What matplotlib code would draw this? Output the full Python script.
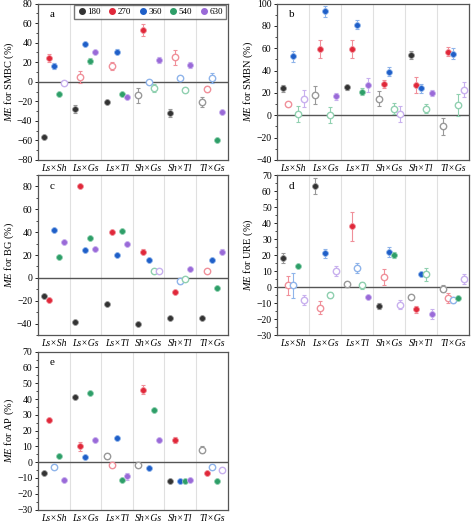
import matplotlib
matplotlib.use("Agg")
import matplotlib.pyplot as plt
from matplotlib.lines import Line2D
from matplotlib.ticker import AutoMinorLocator
import numpy as np

plt.rcParams['font.family'] = ['Liberation Serif', 'DejaVu Serif']
plt.rcParams['mathtext.fontset'] = 'custom'
plt.rcParams['mathtext.it'] = 'Liberation Serif:italic'

groups = ["Ls×Sh", "Ls×Gs", "Ls×Tl", "Sh×Gs", "Sh×Tl", "Tl×Gs"]
series = ["180", "270", "360", "540", "630"]
colors = ["#333333", "#e0283a", "#1f5fc8", "#2e9e68", "#9a6ad8"]
light = ["#999999", "#f0909a", "#8fb4ea", "#90d0b0", "#c8b0ee"]

smbc_v = [[-57, 24, 16, -13, -1], [-28, 5, 39, 21, 31], [-21, 16, 31, -13, -16],
          [-14, 53, 0, -6, 22], [-32, 25, 4, -8, 17], [-21, -7, 4, -60, -31]]
smbc_f = [[1, 1, 1, 1, 0], [1, 0, 1, 1, 1], [1, 0, 1, 1, 1],
          [0, 1, 0, 0, 1], [1, 0, 0, 0, 1], [0, 0, 0, 1, 1]]
smbc_e = [[2, 4, 3, 2, 1], [4, 6, 2, 3, 2], [2, 4, 3, 2, 2],
          [8, 6, 2, 4, 3], [4, 8, 2, 2, 3], [5, 3, 5, 2, 2]]

smbn_v = [[24, 10, 53, 1, 15], [18, 59, 93, 0, 17], [25, 59, 81, 21, 27],
          [15, 28, 39, 6, 1], [54, 27, 24, 6, 20], [-10, 57, 55, 9, 23]]
smbn_f = [[1, 0, 1, 0, 0], [0, 1, 1, 0, 1], [1, 1, 1, 1, 1],
          [0, 1, 1, 0, 0], [1, 1, 1, 0, 1], [0, 1, 1, 0, 0]]
smbn_e = [[3, 2, 5, 7, 8], [8, 8, 5, 7, 3], [2, 8, 4, 3, 6],
          [7, 4, 4, 5, 7], [4, 7, 4, 4, 3], [8, 4, 5, 10, 7]]

bg_v = [[-16, -19, 42, 18, 31], [-39, 80, 24, 35, 25], [-23, 40, 20, 41, 30],
        [-40, 23, 16, 6, 6], [-35, -12, -3, -1, 8], [-35, 6, 16, -9, 23]]
bg_f = [[1, 1, 1, 1, 1], [1, 1, 1, 1, 1], [1, 1, 1, 1, 1],
        [1, 1, 1, 0, 0], [1, 1, 0, 0, 1], [1, 0, 1, 1, 1]]
bg_e = [[2, 1, 1, 1, 1], [1, 1, 1, 1, 1], [1, 1, 1, 1, 1],
        [1, 2, 1, 1, 1], [1, 1, 2, 1, 1], [1, 1, 1, 1, 2]]

ure_v = [[18, 1, 1, 13, -8], [63, -13, 21, -5, 10], [2, 38, 12, 1, -6],
         [-12, 6, 22, 20, -11], [-6, -14, 8, 8, -17], [-1, -7, -8, -7, 5]]
ure_f = [[1, 0, 0, 1, 0], [1, 0, 1, 0, 0], [0, 1, 0, 0, 1],
         [1, 0, 1, 1, 0], [0, 1, 1, 0, 1], [0, 0, 0, 1, 0]]
ure_e = [[3, 6, 8, 1, 3], [5, 4, 3, 2, 3], [1, 9, 3, 2, 1],
         [2, 5, 3, 2, 3], [1, 2, 1, 4, 3], [2, 3, 2, 1, 3]]

ap_v = [[-7, 27, -3, 4, -11], [41, 10, 3, 44, 14], [4, -2, 15, -11, -9],
        [-2, 46, -4, 33, 14], [-12, 14, -12, -12, -11], [8, -7, -3, -12, -5]]
ap_f = [[1, 1, 0, 1, 1], [1, 1, 1, 1, 1], [0, 0, 1, 1, 1],
        [0, 1, 1, 1, 1], [1, 1, 1, 1, 1], [0, 1, 0, 1, 0]]
ap_e = [[1, 1, 1, 1, 1], [1, 3, 1, 1, 1], [2, 1, 1, 1, 2],
        [1, 3, 1, 1, 1], [1, 2, 1, 1, 1], [2, 1, 1, 1, 1]]

panels = [
    ("a", "SMBC", smbc_v, smbc_f, smbc_e, (-80, 80), -80, 20, [0.08, 0.693, 0.40, 0.300]),
    ("b", "SMBN", smbn_v, smbn_f, smbn_e, (-40, 100), -40, 20, [0.585, 0.693, 0.405, 0.300]),
    ("c", "BG", bg_v, bg_f, bg_e, (-50, 90), -40, 20, [0.08, 0.357, 0.40, 0.307]),
    ("d", "URE", ure_v, ure_f, ure_e, (-30, 70), -30, 10, [0.585, 0.357, 0.405, 0.307]),
    ("e", "AP", ap_v, ap_f, ap_e, (-30, 70), -30, 10, [0.08, 0.022, 0.40, 0.303]),
]

fig = plt.figure(figsize=(4.74, 5.21), dpi=100)
offs = np.linspace(-0.32, 0.32, 5)
for letter, name, V, F, E, ylim, t0, step, pos in panels:
    ax = fig.add_axes(pos)
    for g in range(len(groups)):
        for s in range(len(series)):
            x = g + offs[s]
            v = V[g][s]
            ax.errorbar(x, v, yerr=E[g][s], fmt='none', ecolor=light[s], elinewidth=0.8,
                        capsize=1.5, capthick=0.8, zorder=2)
            if F[g][s]:
                ax.plot(x, v, 'o', ms=4.2, mfc=colors[s], mec=light[s], mew=0.6, zorder=3)
            else:
                ax.plot(x, v, 'o', ms=4.6, mfc='white', mec=light[s], mew=1.0, zorder=3)
    for g in range(1, len(groups)):
        ax.axvline(g - 0.5, color='#e0e0e0', lw=0.8, zorder=0)
    ax.axhline(0, color='#555555', lw=1.0, zorder=1)
    ax.set_xlim(-0.5, len(groups) - 0.5)
    ax.set_ylim(*ylim)
    ax.set_yticks(np.arange(t0, ylim[1] + 1, step))
    ax.set_xticks(range(len(groups)))
    ax.set_xticklabels(groups, style='italic', fontsize=7)
    ax.tick_params(axis='both', labelsize=7, length=2.5, width=0.6, pad=1.5)
    ax.tick_params(axis='x', length=0, pad=3)
    ax.yaxis.set_minor_locator(AutoMinorLocator(2))
    ax.tick_params(axis='y', which='minor', length=1.5, width=0.5)
    for sp in ax.spines.values():
        sp.set_color('#555555'); sp.set_linewidth(0.9)
    ax.set_ylabel(r'$\mathit{ME}$ for ' + name + ' (%)', fontsize=7.5, labelpad=1)
    ax.text(0.06, 0.93, letter, transform=ax.transAxes, fontsize=8, va='center')
    if letter == 'a':
        handles = [Line2D([], [], marker='o', ls='none', ms=4, mfc=colors[i], mec=colors[i])
                   for i in range(5)]
        ax.legend(handles, series, loc='upper right', ncol=5, fontsize=6.5, frameon=True,
                  fancybox=False, edgecolor='#555555', handletextpad=0.1, columnspacing=0.8,
                  borderpad=0.3, handlelength=1.0, borderaxespad=0.2)

fig.savefig("out.png", dpi=100)
